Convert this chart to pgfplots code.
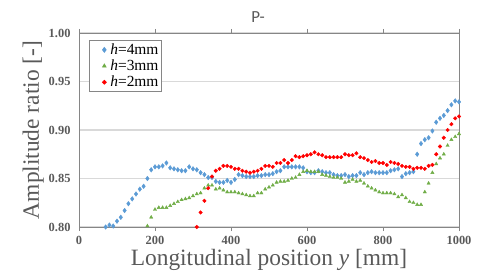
\documentclass[border=0pt]{standalone}
\usepackage{pgfplots}
\pgfplotsset{compat=1.18}
\usepackage{pgfplotstable}
\usepackage{fontspec}
\setmainfont{Liberation Serif}
\newfontfamily\titlefont{Carlito}
\definecolor{txt}{RGB}{89,89,89}
\definecolor{gridc}{RGB}{217,217,217}
\definecolor{axc}{RGB}{134,134,134}
\definecolor{cblue}{RGB}{91,155,213}
\definecolor{cgreen}{RGB}{112,173,71}
\definecolor{cred}{RGB}{255,0,0}
\pgfplotsset{myleg/.style={legend image code/.code={\path[draw=none,fill=none] (0bp,0bp) -- (18bp,0bp);\draw[##1] plot coordinates {(13bp,0bp)};}}}

\pgfplotstableread{
x y
70 0.800
80 0.802
90 0.801
100 0.806
110 0.810
120 0.817
130 0.824
140 0.829
150 0.834
160 0.839
170 0.842
180 0.850
190 0.859
200 0.862
210 0.862
220 0.863
230 0.866
240 0.861
250 0.860
260 0.859
270 0.858
280 0.858
290 0.862
300 0.860
310 0.859
320 0.856
330 0.854
340 0.851
350 0.851
360 0.847
370 0.846
380 0.846
390 0.848
400 0.846
410 0.849
420 0.854
430 0.853
440 0.852
450 0.852
460 0.852
470 0.853
480 0.853
490 0.854
500 0.854
510 0.855
520 0.857
530 0.858
540 0.862
550 0.862
560 0.862
570 0.862
580 0.862
590 0.861
600 0.857
610 0.856
620 0.856
630 0.858
640 0.857
650 0.856
660 0.856
670 0.854
680 0.853
690 0.853
700 0.854
710 0.852
720 0.853
730 0.853
740 0.856
750 0.854
760 0.856
770 0.857
780 0.856
790 0.856
800 0.856
810 0.856
820 0.858
830 0.859
840 0.860
850 0.852
860 0.855
870 0.856
880 0.857
890 0.875
900 0.886
910 0.890
920 0.892
930 0.899
940 0.908
950 0.912
960 0.915
970 0.920
980 0.926
990 0.930
1000 0.929
}\tblue

\pgfplotstableread{
x y
180 0.801
190 0.810
200 0.818
210 0.820
220 0.820
230 0.820
240 0.822
250 0.824
260 0.826
270 0.828
280 0.829
290 0.830
300 0.832
310 0.834
320 0.835
330 0.840
340 0.843
350 0.843
360 0.839
370 0.840
380 0.838
390 0.836
400 0.836
410 0.836
420 0.835
430 0.834
440 0.833
450 0.832
460 0.832
470 0.835
480 0.835
490 0.839
500 0.841
510 0.843
520 0.846
530 0.847
540 0.847
550 0.848
560 0.850
570 0.851
580 0.854
590 0.857
600 0.858
610 0.857
620 0.857
630 0.857
640 0.854
650 0.853
660 0.852
670 0.851
680 0.851
690 0.850
700 0.846
710 0.847
720 0.849
730 0.847
740 0.848
750 0.845
760 0.842
770 0.840
780 0.838
790 0.836
800 0.835
810 0.835
820 0.835
830 0.834
840 0.831
850 0.833
860 0.830
870 0.826
880 0.825
890 0.823
900 0.823
910 0.836
920 0.845
930 0.856
940 0.865
950 0.871
960 0.875
970 0.884
980 0.890
990 0.893
1000 0.896
}\tgreen

\pgfplotstableread{
x y
310 0.800
320 0.815
330 0.827
340 0.840
350 0.852
360 0.858
370 0.860
380 0.863
390 0.863
400 0.862
410 0.860
420 0.860
430 0.858
440 0.857
450 0.856
460 0.857
470 0.858
480 0.860
490 0.863
500 0.863
510 0.862
520 0.866
530 0.866
540 0.869
550 0.866
560 0.869
570 0.873
580 0.872
590 0.873
600 0.874
610 0.875
620 0.877
630 0.875
640 0.874
650 0.872
660 0.872
670 0.872
680 0.872
690 0.872
700 0.875
710 0.874
720 0.874
730 0.876
740 0.872
750 0.871
760 0.869
770 0.867
780 0.868
790 0.866
800 0.866
810 0.864
820 0.867
830 0.866
840 0.865
850 0.863
860 0.862
870 0.862
880 0.860
890 0.861
900 0.861
910 0.860
920 0.863
930 0.864
940 0.875
950 0.883
960 0.892
970 0.900
980 0.906
990 0.912
1000 0.914
}\tred

\begin{document}
\begin{tikzpicture}
\begin{axis}[
  name=ax,
  scale only axis,
  width=380bp, height=194bp,
  xmin=0, xmax=1000, ymin=0.8, ymax=1.0,
  xtick={0,200,400,600,800,1000},
  xticklabels={0,200,400,600,800,1000},
  ytick={0.80,0.85,0.90,0.95,1.00},
  yticklabels={0.80,0.85,0.90,0.95,1.00},
  tick label style={font=\fontsize{12.5}{13}\selectfont\bfseries, text=txt},
  xticklabel style={yshift=-2bp},
  yticklabel style={xshift=-1bp},
  ymajorgrids,
  grid style={gridc, line width=1.2bp},
  axis line style={axc, line width=0.9bp},
  xtick style={axc, line width=0.9bp},
  ytick style={draw=none},
  tick align=outside,
  major tick length=4bp,
  xlabel={Longitudinal position \textit{y} [mm]},
  ylabel={Amplitude ratio [-]},
  label style={font=\fontsize{23.5}{25}\selectfont, text=txt},
  xlabel style={yshift=3bp},
  ylabel style={yshift=-2bp},
  clip=false,
  legend style={at={(rel axis cs:0.026,0.965)}, anchor=north west,
    draw=axc, line width=0.9bp, font=\fontsize{15.5}{16}\selectfont,
    text=black, inner xsep=2bp, inner ysep=1.5bp, row sep=0bp,
    nodes={inner ysep=2bp, inner xsep=1bp}},
  legend cell align=left,
]
\addplot[only marks, mark=diamond*, mark size=2.3bp, color=cblue, myleg] table {\tblue};
\addlegendentry{\textit{h}=4mm}
\addplot[only marks, mark=triangle*, mark size=1.9bp, color=cgreen, myleg] table {\tgreen};
\addlegendentry{\textit{h}=3mm}
\addplot[only marks, mark=*, mark size=1.8bp, color=cred, myleg] table {\tred};
\addlegendentry{\textit{h}=2mm\hspace{5bp}}
\end{axis}
\node[font=\titlefont\fontsize{17}{18}\selectfont, text=txt] at ([xshift=-11bp,yshift=16bp]ax.north) {P-};
\pgfresetboundingbox
\useasboundingbox ([xshift=-79bp,yshift=-53bp]ax.south west) rectangle ++(480bp,280bp);
\end{tikzpicture}
\end{document}
